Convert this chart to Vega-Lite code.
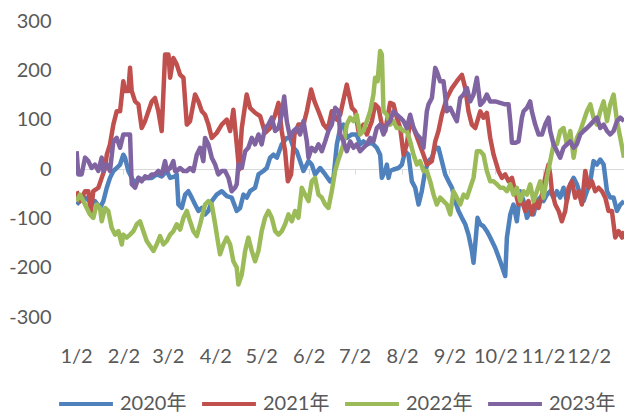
{
  "$schema": "https://vega.github.io/schema/vega-lite/v6.json",
  "width": 548,
  "height": 296,
  "autosize": {"type": "none"},
  "padding": {"left": 76, "top": 21, "right": 0, "bottom": 100},
  "background": "#ffffff",
  "config": {
    "view": {"stroke": null},
    "axis": {"labelFont": "Lato", "labelFontSize": 20, "labelColor": "#595959", "grid": false, "title": null}
  },
  "datasets": {
    "y2020": [
      {"day":2.4,"value":-72},{"day":4.6,"value":-65},{"day":7.9,"value":-58},{"day":11.1,"value":-65},{"day":14.4,"value":-65},{"day":17.7,"value":-79},{"day":19.9,"value":-65},{"day":22.1,"value":-38},{"day":24.2,"value":-18},{"day":26.4,"value":-4},{"day":28.6,"value":2},{"day":30.8,"value":9},{"day":32.9,"value":29},{"day":34.0,"value":23},{"day":36.2,"value":-4},{"day":38.4,"value":-18},{"day":40.6,"value":-31},{"day":42.8,"value":-18},{"day":44.9,"value":-21},{"day":48.2,"value":-18},{"day":51.5,"value":-18},{"day":54.7,"value":-11},{"day":58.0,"value":-15},{"day":61.3,"value":-4},{"day":63.5,"value":-18},{"day":66.7,"value":-15},{"day":67.8,"value":-11},{"day":68.9,"value":-72},{"day":71.1,"value":-79},{"day":73.3,"value":-52},{"day":75.4,"value":-45},{"day":77.6,"value":-58},{"day":79.8,"value":-72},{"day":82.0,"value":-85},{"day":84.2,"value":-79},{"day":86.3,"value":-92},{"day":88.5,"value":-85},{"day":90.7,"value":-65},{"day":93.9,"value":-52},{"day":97.2,"value":-45},{"day":100.5,"value":-55},{"day":103.7,"value":-58},{"day":107.0,"value":-85},{"day":109.2,"value":-79},{"day":111.4,"value":-52},{"day":113.5,"value":-58},{"day":115.7,"value":-45},{"day":119.0,"value":-38},{"day":121.2,"value":-11},{"day":124.4,"value":-4},{"day":126.6,"value":2},{"day":128.8,"value":23},{"day":131.0,"value":29},{"day":133.2,"value":23},{"day":136.4,"value":50},{"day":139.7,"value":63},{"day":141.9,"value":63},{"day":144.1,"value":43},{"day":146.2,"value":36},{"day":148.4,"value":16},{"day":150.6,"value":-4},{"day":153.9,"value":16},{"day":156.0,"value":9},{"day":158.2,"value":-11},{"day":161.5,"value":2},{"day":164.8,"value":-11},{"day":168.0,"value":-25},{"day":170.2,"value":-18},{"day":172.4,"value":50},{"day":174.6,"value":83},{"day":176.7,"value":90},{"day":178.9,"value":63},{"day":182.2,"value":70},{"day":185.4,"value":70},{"day":187.6,"value":50},{"day":189.8,"value":56},{"day":192.0,"value":50},{"day":195.3,"value":53},{"day":198.5,"value":43},{"day":200.7,"value":29},{"day":201.8,"value":-18},{"day":204.0,"value":-4},{"day":205.1,"value":9},{"day":206.2,"value":-18},{"day":207.2,"value":-4},{"day":209.4,"value":-1},{"day":212.7,"value":2},{"day":214.9,"value":9},{"day":217.0,"value":36},{"day":219.2,"value":29},{"day":221.4,"value":-25},{"day":223.6,"value":-38},{"day":225.8,"value":-72},{"day":227.9,"value":-45},{"day":230.1,"value":-4},{"day":232.3,"value":16},{"day":234.5,"value":23},{"day":236.7,"value":43},{"day":238.8,"value":43},{"day":241.0,"value":16},{"day":243.2,"value":-11},{"day":245.4,"value":-25},{"day":247.6,"value":-38},{"day":249.7,"value":-65},{"day":251.9,"value":-85},{"day":254.1,"value":-99},{"day":256.3,"value":-112},{"day":258.4,"value":-133},{"day":260.6,"value":-166},{"day":261.7,"value":-190},{"day":262.8,"value":-153},{"day":264.3,"value":-99},{"day":266.1,"value":-112},{"day":268.2,"value":-116},{"day":270.4,"value":-126},{"day":272.6,"value":-139},{"day":275.9,"value":-160},{"day":279.1,"value":-187},{"day":282.4,"value":-217},{"day":283.5,"value":-139},{"day":285.7,"value":-92},{"day":287.8,"value":-72},{"day":290.0,"value":-106},{"day":292.2,"value":-45},{"day":294.4,"value":-65},{"day":296.6,"value":-99},{"day":298.7,"value":-85},{"day":300.9,"value":-92},{"day":303.1,"value":-65},{"day":305.3,"value":-58},{"day":307.4,"value":-65},{"day":309.6,"value":-52},{"day":311.8,"value":-45},{"day":314.0,"value":-58},{"day":316.2,"value":-45},{"day":318.3,"value":-58},{"day":320.5,"value":-38},{"day":322.7,"value":-65},{"day":324.9,"value":-31},{"day":327.1,"value":-18},{"day":329.2,"value":-31},{"day":331.4,"value":-52},{"day":333.6,"value":-65},{"day":335.8,"value":-45},{"day":338.0,"value":-25},{"day":340.1,"value":16},{"day":342.3,"value":9},{"day":344.5,"value":19},{"day":346.7,"value":9},{"day":348.9,"value":-45},{"day":351.0,"value":-58},{"day":353.2,"value":-58},{"day":355.4,"value":-85},{"day":357.6,"value":-72},{"day":360,"value":-65}
    ],
    "y2021": [
      {"day":2.4,"value":-45},{"day":4.6,"value":-65},{"day":7.9,"value":-45},{"day":10.1,"value":-45},{"day":11.6,"value":-89},{"day":13.3,"value":-45},{"day":16.6,"value":-38},{"day":18.8,"value":-18},{"day":21.0,"value":2},{"day":22.1,"value":29},{"day":24.2,"value":50},{"day":26.4,"value":90},{"day":28.6,"value":117},{"day":30.8,"value":117},{"day":32.9,"value":178},{"day":34.0,"value":158},{"day":36.2,"value":158},{"day":37.3,"value":205},{"day":38.4,"value":158},{"day":40.6,"value":137},{"day":42.8,"value":131},{"day":44.9,"value":83},{"day":47.1,"value":97},{"day":49.3,"value":117},{"day":51.5,"value":137},{"day":53.6,"value":144},{"day":55.8,"value":117},{"day":58.0,"value":77},{"day":60.2,"value":232},{"day":62.4,"value":232},{"day":63.5,"value":185},{"day":65.6,"value":225},{"day":67.8,"value":212},{"day":70.0,"value":191},{"day":72.2,"value":185},{"day":74.4,"value":90},{"day":76.5,"value":97},{"day":79.8,"value":151},{"day":82.0,"value":137},{"day":84.2,"value":117},{"day":86.3,"value":110},{"day":88.5,"value":90},{"day":90.7,"value":63},{"day":93.9,"value":73},{"day":97.2,"value":90},{"day":100.5,"value":100},{"day":102.7,"value":77},{"day":104.8,"value":120},{"day":107.0,"value":50},{"day":108.5,"value":-1},{"day":110.3,"value":83},{"day":113.5,"value":151},{"day":115.7,"value":124},{"day":119.0,"value":114},{"day":122.3,"value":107},{"day":125.5,"value":73},{"day":128.8,"value":83},{"day":132.1,"value":110},{"day":134.3,"value":134},{"day":136.4,"value":77},{"day":138.6,"value":36},{"day":140.4,"value":-25},{"day":142.5,"value":-11},{"day":144.7,"value":70},{"day":147.3,"value":90},{"day":150.6,"value":90},{"day":152.8,"value":117},{"day":155.6,"value":161},{"day":157.8,"value":137},{"day":160.4,"value":117},{"day":163.7,"value":90},{"day":166.5,"value":80},{"day":169.1,"value":117},{"day":172.4,"value":100},{"day":174.6,"value":110},{"day":178.9,"value":171},{"day":182.2,"value":124},{"day":184.4,"value":117},{"day":186.5,"value":77},{"day":189.8,"value":90},{"day":192.0,"value":70},{"day":195.3,"value":97},{"day":197.4,"value":131},{"day":199.6,"value":124},{"day":201.8,"value":90},{"day":204.0,"value":77},{"day":207.2,"value":134},{"day":209.4,"value":131},{"day":211.6,"value":104},{"day":213.8,"value":83},{"day":216.0,"value":29},{"day":218.1,"value":50},{"day":220.3,"value":97},{"day":222.5,"value":83},{"day":225.8,"value":56},{"day":229.0,"value":29},{"day":231.2,"value":9},{"day":234.5,"value":16},{"day":236.7,"value":56},{"day":238.8,"value":77},{"day":241.0,"value":110},{"day":244.3,"value":144},{"day":247.6,"value":164},{"day":250.8,"value":178},{"day":254.1,"value":191},{"day":256.3,"value":164},{"day":258.4,"value":117},{"day":260.6,"value":90},{"day":262.8,"value":83},{"day":266.1,"value":117},{"day":268.2,"value":104},{"day":270.4,"value":114},{"day":272.6,"value":63},{"day":274.8,"value":29},{"day":278.0,"value":-4},{"day":280.2,"value":-18},{"day":282.4,"value":-11},{"day":284.6,"value":-25},{"day":286.8,"value":-18},{"day":288.9,"value":-45},{"day":291.1,"value":-72},{"day":293.3,"value":-65},{"day":295.5,"value":-85},{"day":297.6,"value":-65},{"day":299.8,"value":-92},{"day":302.0,"value":-65},{"day":304.2,"value":-79},{"day":306.4,"value":-52},{"day":308.5,"value":-18},{"day":310.7,"value":9},{"day":311.8,"value":-11},{"day":312.9,"value":-45},{"day":315.1,"value":-72},{"day":317.3,"value":-85},{"day":319.4,"value":-106},{"day":321.6,"value":-85},{"day":323.8,"value":-38},{"day":326.0,"value":-25},{"day":328.1,"value":-58},{"day":330.3,"value":-45},{"day":332.5,"value":-72},{"day":334.7,"value":-4},{"day":336.9,"value":-38},{"day":339.0,"value":-25},{"day":341.2,"value":-45},{"day":343.4,"value":-38},{"day":345.6,"value":-45},{"day":347.8,"value":-58},{"day":349.9,"value":-85},{"day":352.1,"value":-85},{"day":354.3,"value":-139},{"day":356.5,"value":-126},{"day":358.7,"value":-139},{"day":360,"value":-126}
    ],
    "y2022": [
      {"day":2.4,"value":-65},{"day":4.6,"value":-52},{"day":6.8,"value":-65},{"day":9.0,"value":-79},{"day":11.1,"value":-92},{"day":13.3,"value":-99},{"day":15.5,"value":-72},{"day":17.7,"value":-79},{"day":18.8,"value":-106},{"day":21.0,"value":-79},{"day":23.1,"value":-85},{"day":25.3,"value":-119},{"day":27.5,"value":-133},{"day":29.7,"value":-126},{"day":31.9,"value":-153},{"day":32.9,"value":-133},{"day":35.1,"value":-139},{"day":37.3,"value":-133},{"day":39.5,"value":-126},{"day":41.7,"value":-112},{"day":43.8,"value":-106},{"day":46.0,"value":-126},{"day":48.2,"value":-146},{"day":50.4,"value":-156},{"day":52.6,"value":-166},{"day":54.7,"value":-153},{"day":56.9,"value":-136},{"day":59.1,"value":-153},{"day":61.3,"value":-146},{"day":63.5,"value":-133},{"day":65.6,"value":-126},{"day":67.8,"value":-112},{"day":70.0,"value":-123},{"day":72.2,"value":-99},{"day":74.4,"value":-85},{"day":76.5,"value":-106},{"day":78.7,"value":-126},{"day":80.9,"value":-136},{"day":83.1,"value":-112},{"day":85.2,"value":-85},{"day":86.3,"value":-72},{"day":88.5,"value":-65},{"day":90.7,"value":-72},{"day":92.9,"value":-112},{"day":95.0,"value":-153},{"day":96.1,"value":-173},{"day":98.3,"value":-153},{"day":100.5,"value":-139},{"day":102.7,"value":-153},{"day":104.8,"value":-187},{"day":107.0,"value":-200},{"day":108.1,"value":-234},{"day":110.3,"value":-214},{"day":112.5,"value":-166},{"day":114.6,"value":-139},{"day":116.8,"value":-166},{"day":119.0,"value":-187},{"day":121.2,"value":-166},{"day":123.3,"value":-126},{"day":125.5,"value":-99},{"day":127.7,"value":-85},{"day":129.9,"value":-99},{"day":132.1,"value":-126},{"day":134.3,"value":-133},{"day":136.4,"value":-126},{"day":138.6,"value":-112},{"day":140.8,"value":-92},{"day":143.0,"value":-106},{"day":145.1,"value":-85},{"day":147.3,"value":-99},{"day":149.5,"value":-38},{"day":151.7,"value":-52},{"day":153.9,"value":-65},{"day":156.0,"value":-25},{"day":158.2,"value":-18},{"day":160.4,"value":-52},{"day":162.6,"value":-58},{"day":164.8,"value":-72},{"day":166.9,"value":-79},{"day":169.1,"value":-45},{"day":171.3,"value":-4},{"day":173.5,"value":20},{"day":174.6,"value":29},{"day":176.7,"value":50},{"day":178.9,"value":90},{"day":181.1,"value":104},{"day":183.3,"value":97},{"day":185.4,"value":110},{"day":187.6,"value":70},{"day":189.8,"value":77},{"day":192.0,"value":97},{"day":194.2,"value":117},{"day":196.3,"value":151},{"day":197.4,"value":185},{"day":199.0,"value":178},{"day":200.7,"value":239},{"day":201.8,"value":232},{"day":202.9,"value":117},{"day":205.1,"value":110},{"day":207.2,"value":90},{"day":209.4,"value":97},{"day":211.6,"value":83},{"day":213.8,"value":83},{"day":216.0,"value":77},{"day":218.1,"value":77},{"day":220.3,"value":56},{"day":222.5,"value":29},{"day":224.7,"value":9},{"day":226.8,"value":16},{"day":229.0,"value":-4},{"day":231.2,"value":-4},{"day":233.4,"value":-25},{"day":235.6,"value":-52},{"day":237.7,"value":-72},{"day":239.9,"value":-58},{"day":242.1,"value":-65},{"day":244.3,"value":-72},{"day":246.5,"value":-92},{"day":248.6,"value":-45},{"day":250.8,"value":-58},{"day":253.0,"value":-72},{"day":255.2,"value":-52},{"day":257.4,"value":-58},{"day":259.5,"value":-38},{"day":261.7,"value":-18},{"day":263.9,"value":36},{"day":266.1,"value":36},{"day":268.2,"value":29},{"day":270.4,"value":-4},{"day":272.6,"value":-25},{"day":274.8,"value":-25},{"day":277.0,"value":-31},{"day":279.1,"value":-38},{"day":281.3,"value":-38},{"day":283.5,"value":-45},{"day":285.7,"value":-31},{"day":287.8,"value":-52},{"day":290.0,"value":-38},{"day":292.2,"value":-65},{"day":294.4,"value":-45},{"day":296.6,"value":-52},{"day":298.7,"value":-31},{"day":300.9,"value":-65},{"day":303.1,"value":-45},{"day":305.3,"value":-25},{"day":307.4,"value":-58},{"day":309.6,"value":-18},{"day":311.8,"value":16},{"day":314.0,"value":50},{"day":316.2,"value":50},{"day":318.3,"value":77},{"day":320.5,"value":83},{"day":322.7,"value":50},{"day":324.9,"value":77},{"day":327.1,"value":23},{"day":329.2,"value":63},{"day":331.4,"value":77},{"day":333.6,"value":97},{"day":335.8,"value":117},{"day":338.0,"value":131},{"day":340.1,"value":104},{"day":342.3,"value":90},{"day":344.5,"value":117},{"day":346.7,"value":137},{"day":348.9,"value":97},{"day":351.0,"value":131},{"day":353.2,"value":151},{"day":355.4,"value":97},{"day":357.6,"value":63},{"day":360,"value":23}
    ],
    "y2023": [
      {"day":2.4,"value":36},{"day":3.5,"value":-11},{"day":5.7,"value":-11},{"day":7.9,"value":23},{"day":10.1,"value":16},{"day":12.2,"value":2},{"day":14.4,"value":9},{"day":16.6,"value":-4},{"day":18.8,"value":23},{"day":19.9,"value":-4},{"day":22.1,"value":9},{"day":24.2,"value":-4},{"day":26.4,"value":56},{"day":28.6,"value":63},{"day":30.8,"value":43},{"day":32.9,"value":70},{"day":35.1,"value":70},{"day":37.3,"value":70},{"day":38.4,"value":-31},{"day":40.6,"value":-38},{"day":42.8,"value":-18},{"day":44.9,"value":-25},{"day":47.1,"value":-15},{"day":49.3,"value":-18},{"day":51.5,"value":-11},{"day":53.6,"value":-11},{"day":55.8,"value":-4},{"day":58.0,"value":-11},{"day":60.2,"value":16},{"day":61.3,"value":-4},{"day":63.5,"value":2},{"day":65.6,"value":16},{"day":66.7,"value":-4},{"day":67.8,"value":-4},{"day":70.0,"value":2},{"day":72.2,"value":-4},{"day":74.4,"value":-4},{"day":76.5,"value":2},{"day":78.7,"value":-4},{"day":80.9,"value":29},{"day":83.1,"value":43},{"day":85.2,"value":16},{"day":86.3,"value":63},{"day":88.5,"value":50},{"day":90.7,"value":23},{"day":92.9,"value":9},{"day":95.0,"value":-11},{"day":97.2,"value":-4},{"day":99.4,"value":-4},{"day":101.6,"value":-18},{"day":103.7,"value":-45},{"day":105.9,"value":-38},{"day":107.0,"value":-31},{"day":108.1,"value":9},{"day":110.3,"value":2},{"day":112.5,"value":36},{"day":114.6,"value":43},{"day":116.8,"value":63},{"day":119.0,"value":50},{"day":121.2,"value":70},{"day":123.3,"value":50},{"day":125.5,"value":83},{"day":127.7,"value":90},{"day":129.9,"value":104},{"day":132.1,"value":77},{"day":134.3,"value":83},{"day":136.4,"value":110},{"day":138.0,"value":147},{"day":139.7,"value":97},{"day":141.9,"value":63},{"day":144.1,"value":77},{"day":146.2,"value":83},{"day":148.4,"value":70},{"day":150.6,"value":97},{"day":152.8,"value":56},{"day":153.9,"value":23},{"day":156.0,"value":43},{"day":158.2,"value":36},{"day":160.4,"value":50},{"day":162.6,"value":36},{"day":164.8,"value":56},{"day":166.9,"value":77},{"day":169.1,"value":90},{"day":171.3,"value":124},{"day":173.5,"value":117},{"day":174.6,"value":70},{"day":176.7,"value":56},{"day":178.9,"value":36},{"day":181.1,"value":56},{"day":183.3,"value":43},{"day":185.4,"value":50},{"day":187.6,"value":36},{"day":189.8,"value":43},{"day":192.0,"value":50},{"day":194.2,"value":63},{"day":196.3,"value":56},{"day":198.5,"value":83},{"day":200.7,"value":90},{"day":202.9,"value":70},{"day":205.1,"value":90},{"day":207.2,"value":97},{"day":209.4,"value":117},{"day":211.6,"value":110},{"day":213.8,"value":104},{"day":216.0,"value":97},{"day":218.1,"value":83},{"day":220.3,"value":110},{"day":222.5,"value":83},{"day":224.7,"value":70},{"day":226.8,"value":63},{"day":229.0,"value":43},{"day":231.2,"value":117},{"day":232.3,"value":131},{"day":234.5,"value":144},{"day":236.7,"value":205},{"day":237.7,"value":198},{"day":239.9,"value":178},{"day":242.1,"value":178},{"day":244.3,"value":117},{"day":246.5,"value":124},{"day":248.6,"value":110},{"day":250.8,"value":97},{"day":253.0,"value":144},{"day":255.2,"value":151},{"day":257.4,"value":164},{"day":259.5,"value":137},{"day":261.7,"value":151},{"day":263.9,"value":185},{"day":266.1,"value":130},{"day":268.2,"value":137},{"day":270.4,"value":151},{"day":272.6,"value":137},{"day":275.9,"value":137},{"day":279.1,"value":134},{"day":282.4,"value":131},{"day":284.6,"value":131},{"day":285.7,"value":97},{"day":286.8,"value":53},{"day":288.9,"value":53},{"day":291.1,"value":56},{"day":293.3,"value":104},{"day":294.4,"value":117},{"day":296.6,"value":124},{"day":298.7,"value":137},{"day":299.8,"value":117},{"day":302.0,"value":90},{"day":304.2,"value":70},{"day":306.4,"value":70},{"day":308.5,"value":90},{"day":310.7,"value":104},{"day":311.8,"value":77},{"day":314.0,"value":50},{"day":316.2,"value":36},{"day":318.3,"value":23},{"day":320.5,"value":43},{"day":322.7,"value":50},{"day":324.9,"value":56},{"day":327.1,"value":43},{"day":329.2,"value":50},{"day":331.4,"value":70},{"day":333.6,"value":77},{"day":335.8,"value":83},{"day":338.0,"value":90},{"day":340.1,"value":97},{"day":342.3,"value":104},{"day":344.5,"value":83},{"day":346.7,"value":90},{"day":348.9,"value":77},{"day":351.0,"value":70},{"day":353.2,"value":77},{"day":355.4,"value":97},{"day":357.6,"value":104},{"day":360,"value":97}
    ]
  },
  "layer": [
    {"data": {"name": "y2020"}, "transform": [{"calculate": "'2020年'", "as": "year"}], "mark": {"type": "line", "strokeWidth": 4.5, "strokeJoin": "round", "clip": true},
     "encoding": {
       "x": {"field": "day", "type": "quantitative", "scale": {"domain": [2, 360], "nice": false, "zero": false},
             "axis": {"values": [2, 33, 62, 93, 123, 154, 184, 215, 246, 276, 307, 337], "labelExpr": "timeFormat(datetime(2020, 0, datum.value), '%-m/%-d')", "offset": -148, "domainColor": "#D9D9D9", "tickColor": "#D9D9D9", "tickSize": 5, "labelPadding": 172, "labelOverlap": false, "labelFlush": false, "labelBound": false}},
       "y": {"field": "value", "type": "quantitative", "scale": {"domain": [-300, 300], "nice": false},
             "axis": {"values": [-300, -200, -100, 0, 100, 200, 300], "labelExpr": "'' + datum.value", "domain": false, "ticks": false, "tickSize": 0, "labelPadding": 25}},
       "color": {"field": "year", "type": "nominal",
                 "scale": {"domain": ["2020年", "2021年", "2022年", "2023年"], "range": ["#4F81BD", "#C0504D", "#9BBB59", "#8064A2"]},
                 "legend": {"title": null, "orient": "none", "legendX": -19, "legendY": 354, "direction": "horizontal", "symbolType": "stroke", "symbolSize": 2900, "symbolStrokeWidth": 4, "labelFont": "Lato, 'Noto Sans CJK SC'", "labelFontSize": 20, "labelColor": "#595959", "labelOffset": 5, "columnPadding": 7}}
     }},
    {"data": {"name": "y2021"}, "transform": [{"calculate": "'2021年'", "as": "year"}], "mark": {"type": "line", "strokeWidth": 4.5, "strokeJoin": "round", "clip": true},
     "encoding": {"x": {"field": "day", "type": "quantitative"}, "y": {"field": "value", "type": "quantitative"}, "color": {"field": "year", "type": "nominal"}}},
    {"data": {"name": "y2022"}, "transform": [{"calculate": "'2022年'", "as": "year"}], "mark": {"type": "line", "strokeWidth": 4.5, "strokeJoin": "round", "clip": true},
     "encoding": {"x": {"field": "day", "type": "quantitative"}, "y": {"field": "value", "type": "quantitative"}, "color": {"field": "year", "type": "nominal"}}},
    {"data": {"name": "y2023"}, "transform": [{"calculate": "'2023年'", "as": "year"}], "mark": {"type": "line", "strokeWidth": 4.5, "strokeJoin": "round", "clip": true},
     "encoding": {"x": {"field": "day", "type": "quantitative"}, "y": {"field": "value", "type": "quantitative"}, "color": {"field": "year", "type": "nominal"}}}
  ]
}
